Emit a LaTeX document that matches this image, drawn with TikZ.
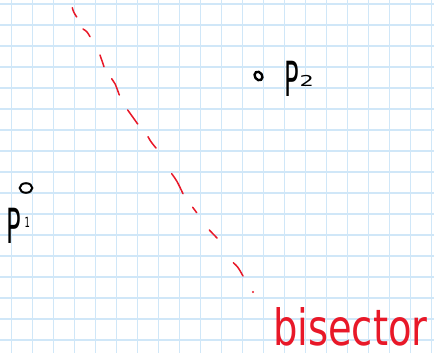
\documentclass[tikz,border=0pt]{standalone}
\usepackage{fontspec}
\setmainfont{DejaVu Sans}
\definecolor{gridblue}{RGB}{208,231,248}
\definecolor{penred}{RGB}{232,24,40}
\begin{document}
\begin{tikzpicture}[x=1pt,y=-1pt,
  gridline/.style={draw=gridblue,line width=1.3pt},
  dashseg/.style={draw=penred,line width=1.5pt,line cap=round},
  ring/.style={draw=black,line width=2.4pt},
  lbl/.style={inner sep=0pt,outer sep=0pt}]
\useasboundingbox[fill=white] (0,0) rectangle (434,353);
% grid
\foreach \i in {0,...,20} \draw[gridline] ({11.3+21*\i},0) -- ({11.3+21*\i},353);
\foreach \j in {0,...,16} \draw[gridline] (0,{4+21*\j}) -- (434,{4+21*\j});
% bisector dashes
\draw[dashseg] (72.3,7.7) .. controls (73.5,12) .. (76.7,17);
\draw[dashseg] (83,29) .. controls (87,31.5) .. (90,36.7);
\draw[dashseg] (100,55) -- (104,66.7);
\draw[dashseg] (111.7,78.7) .. controls (115,83) .. (119.3,95);
\draw[dashseg] (127.7,110) .. controls (132,117) .. (137.7,124);
\draw[dashseg] (148,136.7) .. controls (151,142) .. (156,148);
\draw[dashseg] (171.7,173.7) .. controls (177,181) .. (183,193.7);
\draw[dashseg] (192.7,207.3) -- (196.7,212.7);
\draw[dashseg] (209.3,230) .. controls (213,234) .. (217,238);
\draw[dashseg] (233.3,262.7) .. controls (238,267) .. (243,276);
\fill[penred] (253,292) circle (1.2);
% points
\draw[ring] (258.5,76) ellipse[x radius=3.6,y radius=4.6,rotate=35];
\draw[draw=black,line width=2pt] (26,188) ellipse[x radius=6.3,y radius=4.8];
% labels
\node[lbl,anchor=base west] (p2) at (284,96)
  {\scalebox{0.55}[1.1]{\fontsize{44}{44}\selectfont P}\kern1pt\raisebox{10pt}{\scalebox{1.5}[1]{\fontsize{15}{15}\selectfont 2}}};
\node[lbl,anchor=base west] (p1) at (6,243)
  {\scalebox{0.55}[1.1]{\fontsize{44}{44}\selectfont P}\kern4pt\raisebox{16pt}{\scalebox{0.6}[1]{\fontsize{14}{14}\selectfont 1}}};
\node[lbl,anchor=base west,text=penred] (bis) at (273,345)
  {\scalebox{0.77}[1]{\fontsize{50}{50}\selectfont bisector}};
\end{tikzpicture}
\end{document}
